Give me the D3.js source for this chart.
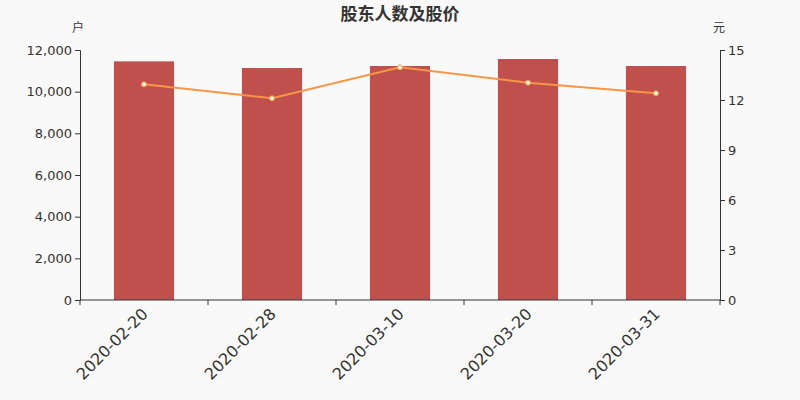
<!DOCTYPE html>
<html><head><meta charset="utf-8">
<script src="https://cdn.jsdelivr.net/npm/d3@7/dist/d3.min.js"></script>
<style>
body{margin:0;background:#f9f9f9;}
svg{display:block;}
text{font-family:"DejaVu Sans","Noto Sans CJK SC",sans-serif;}
</style></head><body>
<svg id="c" width="800" height="400"></svg>
<script>
const categories = ["2020-02-20","2020-02-28","2020-03-10","2020-03-20","2020-03-31"];
const holders = [11456, 11136, 11232, 11568, 11232];
const prices = [12.94, 12.10, 13.96, 13.04, 12.40];
const leftTicks = [0,2000,4000,6000,8000,10000,12000];
const rightTicks = [0,3,6,9,12,15];

const svg = d3.select("#c");
const L=80, R=720, T=50, B=300;
svg.append("rect").attr("width",800).attr("height",400).attr("fill","#f9f9f9");

const x = d3.scaleBand().domain(categories).range([L,R]).paddingInner(0.53).paddingOuter(0.265);
const yL = d3.scaleLinear().domain([0,12000]).range([B,T]);
const yR = d3.scaleLinear().domain([0,15]).range([B,T]);

svg.append("text").attr("x",400).attr("y",20).attr("text-anchor","middle")
  .attr("font-size",17).attr("font-weight","bold").attr("fill","#333").text("股东人数及股价");
svg.append("text").attr("x",78).attr("y",32).attr("text-anchor","middle")
  .attr("font-size",12).attr("fill","#333").text("户");
svg.append("text").attr("x",719).attr("y",32).attr("text-anchor","middle")
  .attr("font-size",12).attr("fill","#333").text("元");

svg.append("g").selectAll("rect").data(holders).join("rect")
  .attr("x",(d,i)=>x(categories[i])).attr("width",x.bandwidth())
  .attr("y",d=>yL(d)).attr("height",d=>B-yL(d)).attr("fill","#c0504d");

const line = d3.line().x((d,i)=>x(categories[i])+x.bandwidth()/2).y(d=>yR(d));
svg.append("path").datum(prices).attr("d",line).attr("fill","none")
  .attr("stroke","#f79646").attr("stroke-width",2);
svg.append("g").selectAll("circle").data(prices).join("circle")
  .attr("cx",(d,i)=>x(categories[i])+x.bandwidth()/2).attr("cy",d=>yR(d)).attr("r",2.5)
  .attr("fill","#fff3e0").attr("stroke","#f79646").attr("stroke-width",1);

function style(g){
  g.selectAll(".domain").attr("stroke","#333");
  g.selectAll(".tick line").attr("stroke","#333");
  g.selectAll(".tick text").attr("fill","#333").attr("font-size",13);
}
const gl = svg.append("g").attr("transform",`translate(${L},0)`)
  .call(d3.axisLeft(yL).tickValues(leftTicks).tickFormat(d3.format(",")).tickSizeOuter(0).tickSize(5));
style(gl);
const gr = svg.append("g").attr("transform",`translate(${R},0)`)
  .call(d3.axisRight(yR).tickValues(rightTicks).tickSizeOuter(0).tickSize(5));
style(gr);

const gx = svg.append("g").attr("transform",`translate(0,${B})`);
gx.append("line").attr("x1",L).attr("x2",R).attr("stroke","#333");
const bounds = categories.map(c=>x(c)-x.step()*x.paddingInner()/2).concat([R]);
gx.selectAll("line.tk").data(bounds).join("line").attr("class","tk")
  .attr("x1",d=>d).attr("x2",d=>d).attr("y1",0).attr("y2",5).attr("stroke","#333");
gx.selectAll("text").data(categories).join("text")
  .attr("transform",c=>`translate(${x(c)+x.bandwidth()/2+1},${11}) rotate(-45)`)
  .attr("text-anchor","end").attr("dy","0.35em").attr("font-size",16).attr("fill","#333").text(c=>c);
</script></body></html>
